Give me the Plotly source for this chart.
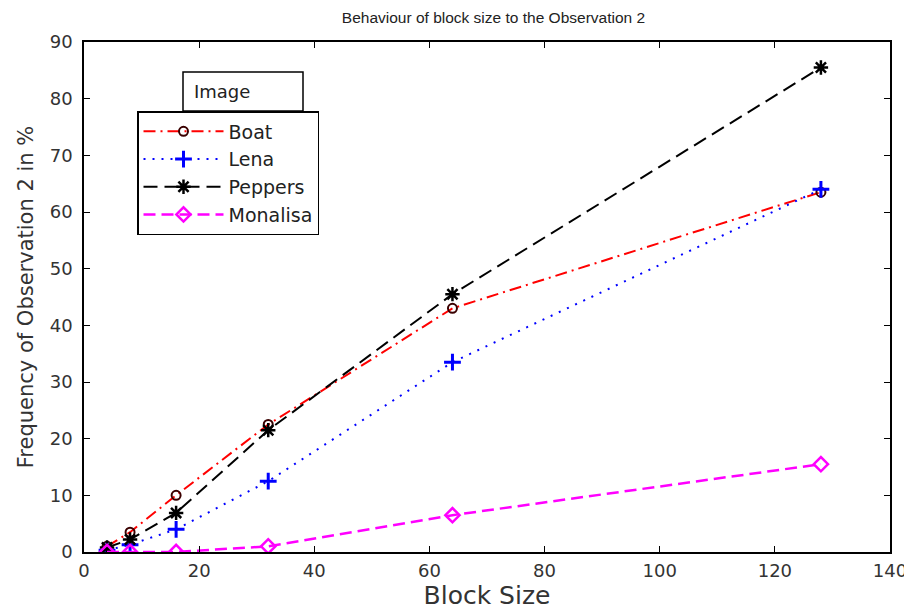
import plotly.graph_objects as go

block_size = [4, 8, 16, 32, 64, 128]
boat = [1.0, 3.5, 10.0, 22.5, 43.0, 63.5]
lena = [0.3, 1.3, 4.0, 12.5, 33.5, 64.0]
peppers = [0.8, 2.2, 6.9, 21.5, 45.5, 85.5]
monalisa = [0.0, 0.0, 0.0, 1.0, 6.5, 15.5]

x_ticks = [0, 20, 40, 60, 80, 100, 120, 140]
y_ticks = [0, 10, 20, 30, 40, 50, 60, 70, 80, 90]

FONT = "DejaVu Sans, Liberation Sans, Arial, sans-serif"
TITLE_FONT = "Liberation Sans, Arial, sans-serif"

fig = go.Figure()
fig.add_trace(go.Scatter(
    x=block_size, y=boat, name="Boat", mode="lines+markers",
    line=dict(color="#ff0000", width=2, dash="12px,5px,2px,5px"),
    marker=dict(symbol="circle-open", size=9, color="#3a0000", line=dict(width=2, color="#3a0000")),
))
fig.add_trace(go.Scatter(
    x=block_size, y=lena, name="Lena", mode="lines+markers",
    line=dict(color="#0000ff", width=2, dash="2px,7px"),
    marker=dict(symbol="cross-thin-open", size=12, color="#0000ff", line=dict(width=3, color="#0000ff")),
))
fig.add_trace(go.Scatter(
    x=block_size, y=peppers, name="Peppers", mode="lines+markers",
    line=dict(color="#000000", width=2, dash="14px,7px"),
    marker=dict(symbol="asterisk-open", size=12, color="#000000", line=dict(width=2.5, color="#000000")),
))
fig.add_trace(go.Scatter(
    x=block_size, y=monalisa, name="Monalisa", mode="lines+markers",
    line=dict(color="#ff00ff", width=2.5, dash="12px,6px"),
    marker=dict(symbol="diamond-open", size=11, color="#ff00ff", line=dict(width=2.5, color="#ff00ff")),
))

axis_common = dict(
    showline=True, linecolor="#000000", linewidth=1.5, mirror="ticks",
    ticks="inside", ticklen=6, tickcolor="#000000", tickwidth=1,
    showgrid=False, zeroline=False, automargin=False,
    tickfont=dict(family=FONT, size=18, color="#333333"),
)

W, H = 904, 604  # page has an 8px body margin
fig.update_layout(
    width=W, height=H,
    margin=dict(l=76, r=22, t=34, b=60, autoexpand=False),
    paper_bgcolor="white", plot_bgcolor="white",
    title=dict(text="Behaviour of block size to the Observation 2",
               x=0.537, xanchor="center", y=1 - 10 / H, yanchor="middle",
               font=dict(family=TITLE_FONT, size=15.5, color="#222222")),
    xaxis=dict(range=[0, 140], tickvals=x_ticks, ticklabelstandoff=2, **axis_common,
               title=dict(text="Block Size", standoff=0,
                          font=dict(family=FONT, size=25, color="#333333"))),
    yaxis=dict(range=[0, 90], tickvals=y_ticks, ticklabelstandoff=6, **axis_common,
               title=dict(text="Frequency of Observation 2 in %", standoff=10,
                          font=dict(family=FONT, size=21, color="#333333"))),
    legend=dict(x=(137 - 84) / 806, y=(552 - 111) / 510, xanchor="left", yanchor="top",
                bgcolor="white", bordercolor="#000000", borderwidth=1.5,
                font=dict(family=FONT, size=19, color="#222222"),
                itemwidth=80, tracegroupgap=0),
    showlegend=True,
)

# legend title box ("Image")
fig.add_shape(type="rect", xref="paper", yref="paper",
              x0=(183 - 84) / 806, x1=(303 - 84) / 806,
              y0=(552 - 111) / 510, y1=(552 - 72) / 510,
              line=dict(color="#000000", width=1.5), fillcolor="white", layer="above")
fig.add_annotation(xref="paper", yref="paper", x=(192 - 84) / 806, y=(552 - 91) / 510,
                   xanchor="left", yanchor="middle", text="Image", showarrow=False,
                   font=dict(family=FONT, size=18, color="#222222"))

fig.write_html("out.html")
